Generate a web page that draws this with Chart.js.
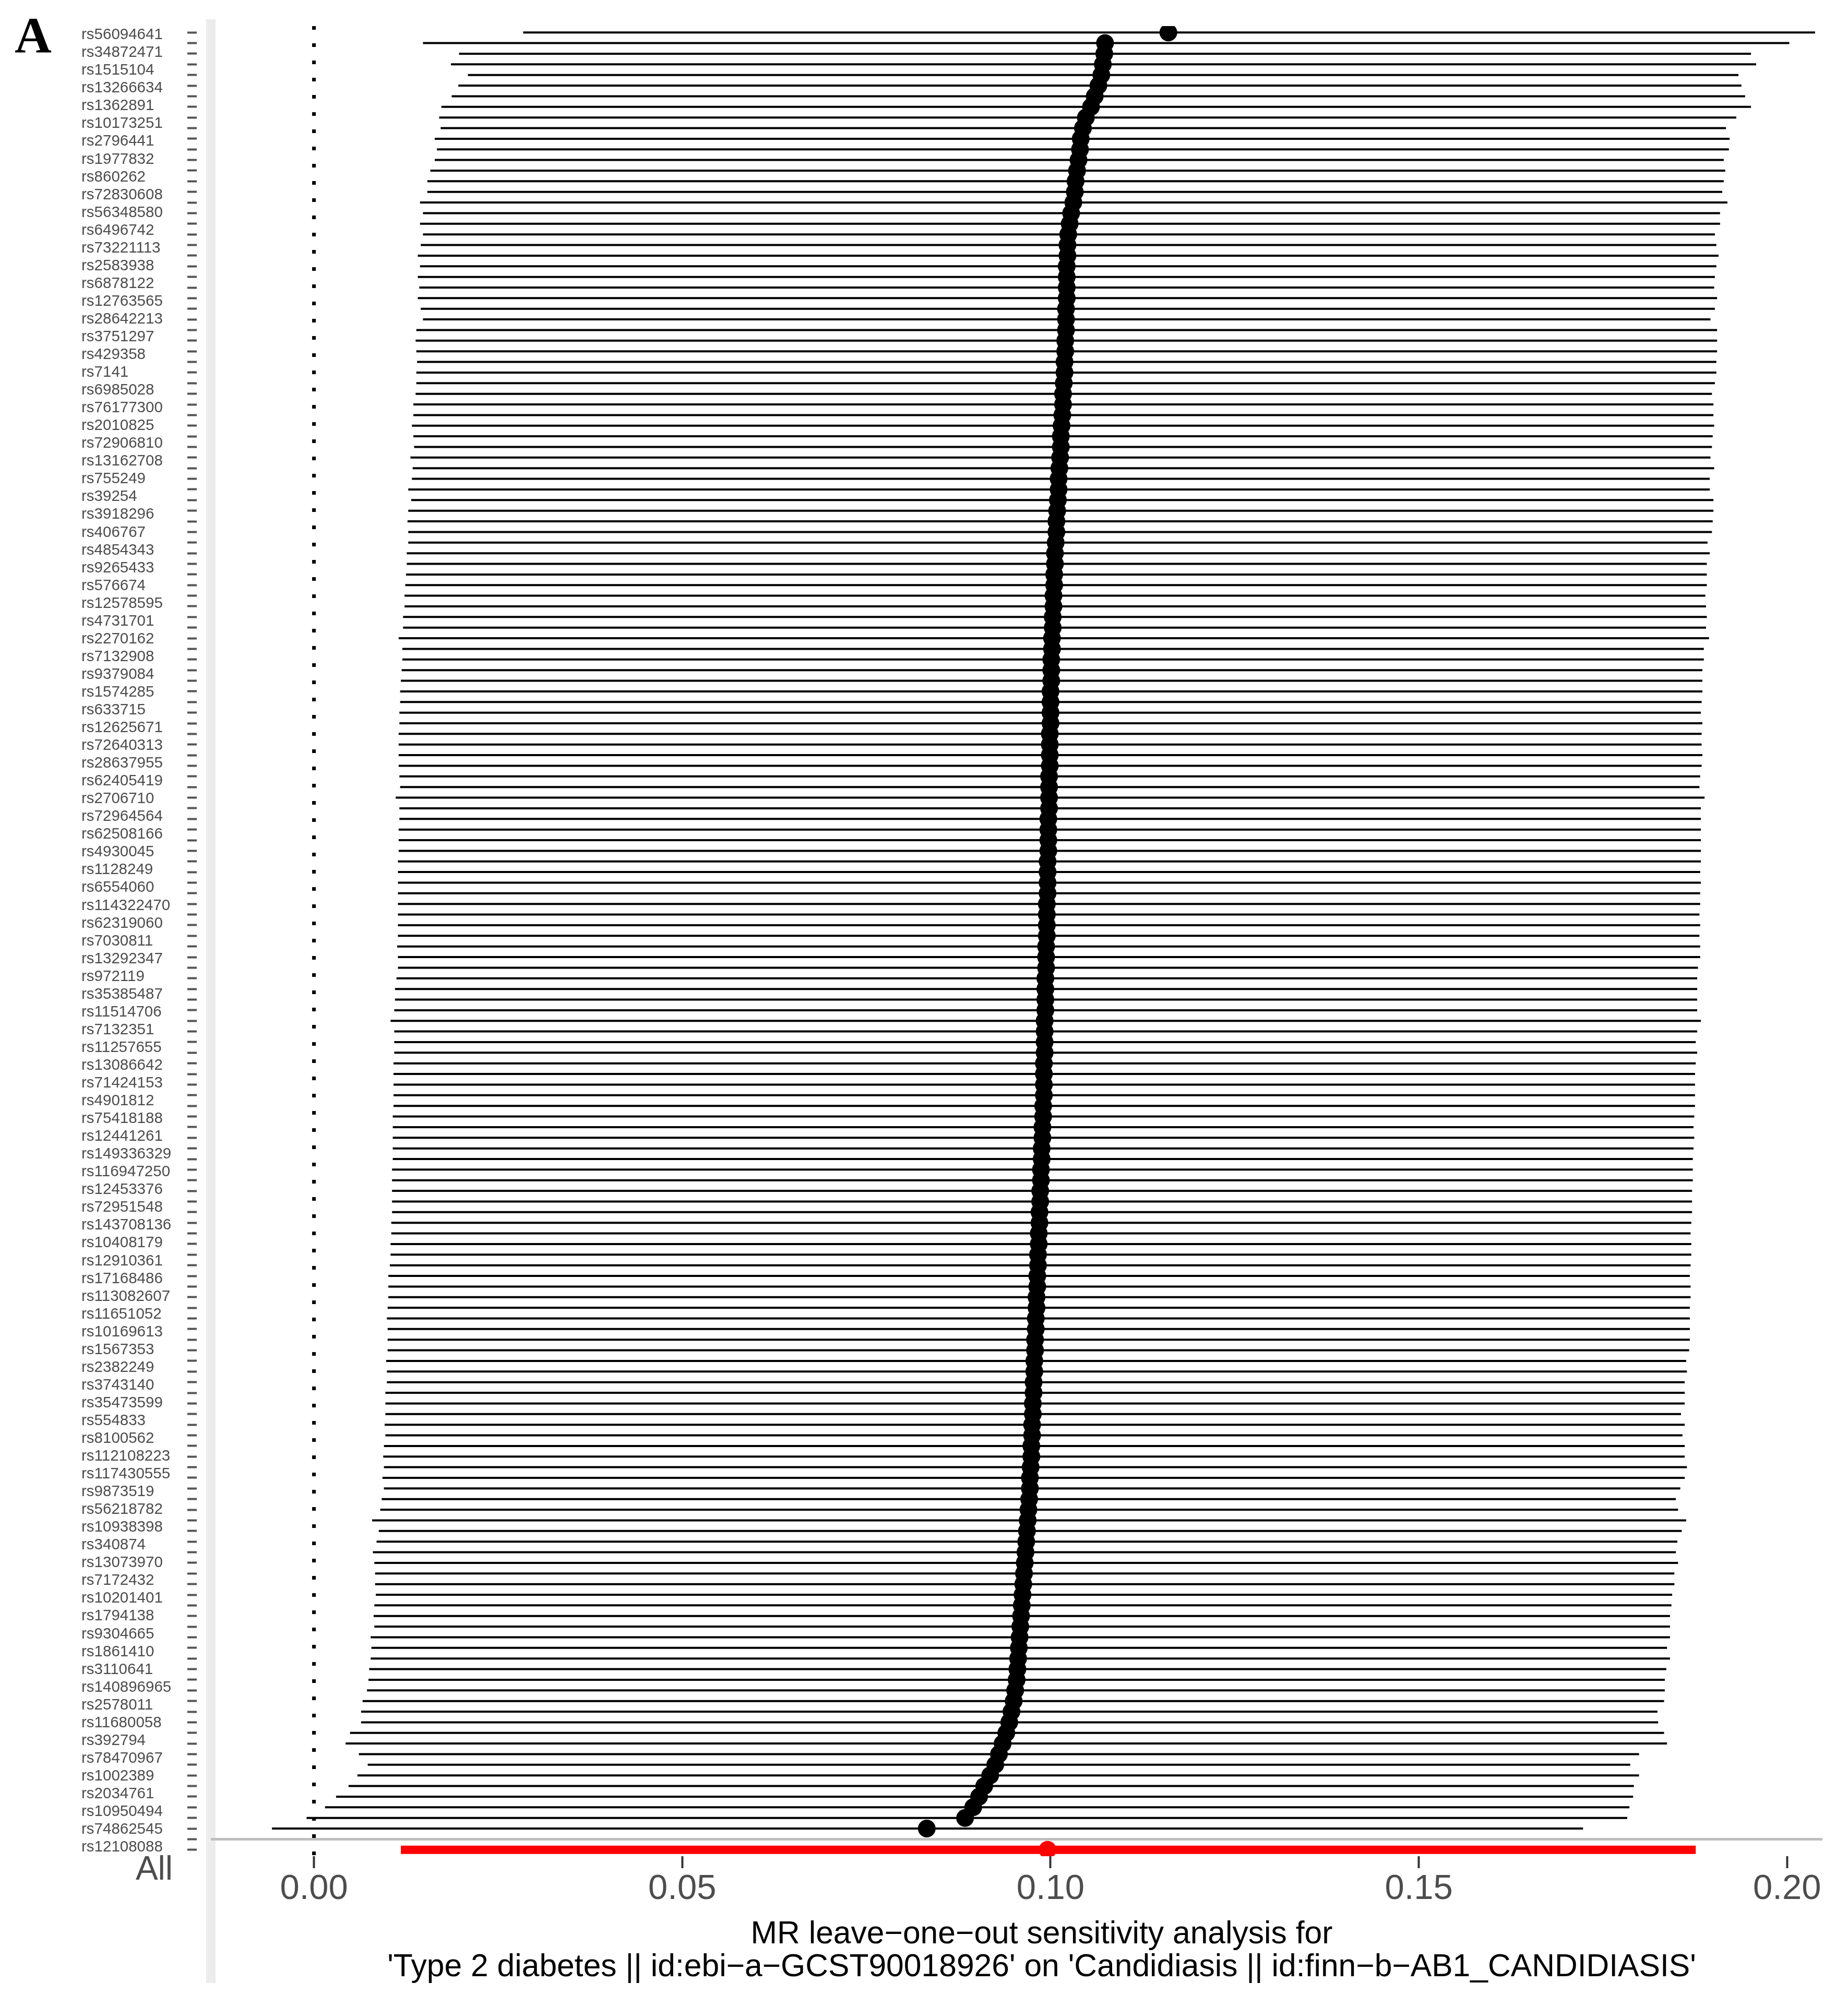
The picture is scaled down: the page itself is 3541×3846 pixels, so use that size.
<!DOCTYPE html>
<html>
<head>
<meta charset="utf-8">
<script src="https://cdn.jsdelivr.net/npm/chart.js@4.4.0/dist/chart.umd.min.js"></script>
<style>
  html, body { margin: 0; padding: 0; background: #ffffff; }
  canvas { display: block; }
</style>
</head>
<body>
<canvas id="looChart" width="3541" height="3846"></canvas>
<script>
/*
MR leave-one-out sensitivity analysis
Each SNP row: estimate with its 95% interval when that SNP is left out.
Last row "All" is the estimate with all SNPs (red), below a blank separator row.
*/

// Tick labels shown on the left (as printed in the figure)
const snpLabels = [
    'rs56094641', 'rs34872471', 'rs1515104', 'rs13266634', 'rs1362891', 'rs10173251', 'rs2796441',
    'rs1977832', 'rs860262', 'rs72830608', 'rs56348580', 'rs6496742', 'rs73221113', 'rs2583938',
    'rs6878122', 'rs12763565', 'rs28642213', 'rs3751297', 'rs429358', 'rs7141', 'rs6985028',
    'rs76177300', 'rs2010825', 'rs72906810', 'rs13162708', 'rs755249', 'rs39254', 'rs3918296',
    'rs406767', 'rs4854343', 'rs9265433', 'rs576674', 'rs12578595', 'rs4731701', 'rs2270162',
    'rs7132908', 'rs9379084', 'rs1574285', 'rs633715', 'rs12625671', 'rs72640313', 'rs28637955',
    'rs62405419', 'rs2706710', 'rs72964564', 'rs62508166', 'rs4930045', 'rs1128249', 'rs6554060',
    'rs114322470', 'rs62319060', 'rs7030811', 'rs13292347', 'rs972119', 'rs35385487', 'rs11514706',
    'rs7132351', 'rs11257655', 'rs13086642', 'rs71424153', 'rs4901812', 'rs75418188', 'rs12441261',
    'rs149336329', 'rs116947250', 'rs12453376', 'rs72951548', 'rs143708136', 'rs10408179',
    'rs12910361', 'rs17168486', 'rs113082607', 'rs11651052', 'rs10169613', 'rs1567353', 'rs2382249',
    'rs3743140', 'rs35473599', 'rs554833', 'rs8100562', 'rs112108223', 'rs117430555', 'rs9873519',
    'rs56218782', 'rs10938398', 'rs340874', 'rs13073970', 'rs7172432', 'rs10201401', 'rs1794138',
    'rs9304665', 'rs1861410', 'rs3110641', 'rs140896965', 'rs2578011', 'rs11680058', 'rs392794',
    'rs78470967', 'rs1002389', 'rs2034761', 'rs10950494', 'rs74862545', 'rs12108088'
];

// Leave-one-out estimates, one per row from top to bottom
const estimate = [
    0.1160, 0.1074, 0.1073, 0.1071, 0.1069, 0.1065, 0.1060, 0.1055, 0.1048, 0.1044,
    0.1041, 0.1040, 0.1038, 0.1036, 0.1034, 0.1033, 0.1031, 0.1028, 0.1026, 0.1024,
    0.1023, 0.1023, 0.1022, 0.1022, 0.1022, 0.1022, 0.1021, 0.1021, 0.1021, 0.1020,
    0.1020, 0.1019, 0.1019, 0.1018, 0.1017, 0.1017, 0.1016, 0.1015, 0.1014, 0.1014,
    0.1013, 0.1012, 0.1011, 0.1011, 0.1010, 0.1009, 0.1008, 0.1008, 0.1007, 0.1006,
    0.1006, 0.1005, 0.1005, 0.1004, 0.1004, 0.1003, 0.1003, 0.1002, 0.1002, 0.1001,
    0.1001, 0.1001, 0.1000, 0.1000, 0.1000, 0.1000, 0.0999, 0.0999, 0.0999, 0.0999,
    0.0998, 0.0998, 0.0998, 0.0998, 0.0997, 0.0997, 0.0997, 0.0997, 0.0996, 0.0996,
    0.0996, 0.0996, 0.0995, 0.0995, 0.0995, 0.0995, 0.0994, 0.0994, 0.0994, 0.0993,
    0.0993, 0.0993, 0.0993, 0.0992, 0.0992, 0.0992, 0.0992, 0.0991, 0.0991, 0.0991,
    0.0991, 0.0990, 0.0990, 0.0989, 0.0989, 0.0988, 0.0988, 0.0987, 0.0987, 0.0986,
    0.0986, 0.0985, 0.0985, 0.0984, 0.0984, 0.0983, 0.0983, 0.0982, 0.0982, 0.0981,
    0.0981, 0.0980, 0.0980, 0.0979, 0.0979, 0.0978, 0.0978, 0.0977, 0.0977, 0.0976,
    0.0976, 0.0975, 0.0975, 0.0974, 0.0974, 0.0973, 0.0972, 0.0972, 0.0971, 0.0970,
    0.0969, 0.0968, 0.0967, 0.0966, 0.0965, 0.0964, 0.0963, 0.0962, 0.0961, 0.0960,
    0.0959, 0.0958, 0.0957, 0.0956, 0.0955, 0.0954, 0.0952, 0.0950, 0.0947, 0.0944,
    0.0940, 0.0935, 0.0930, 0.0925, 0.0918, 0.0910, 0.0903, 0.0895, 0.0884, 0.0832
];

// Lower end of each interval
const lowerCI = [
    0.0284, 0.0148, 0.0197, 0.0186, 0.0209, 0.0196, 0.0187, 0.0173, 0.0170, 0.0172,
    0.0164, 0.0167, 0.0164, 0.0158, 0.0154, 0.0154, 0.0144, 0.0148, 0.0144, 0.0148,
    0.0145, 0.0141, 0.0144, 0.0141, 0.0143, 0.0141, 0.0145, 0.0148, 0.0139, 0.0138,
    0.0139, 0.0140, 0.0139, 0.0139, 0.0138, 0.0135, 0.0135, 0.0133, 0.0135, 0.0136,
    0.0131, 0.0134, 0.0133, 0.0128, 0.0132, 0.0128, 0.0127, 0.0128, 0.0128, 0.0126,
    0.0126, 0.0125, 0.0124, 0.0123, 0.0123, 0.0121, 0.0121, 0.0115, 0.0120, 0.0120,
    0.0119, 0.0118, 0.0117, 0.0117, 0.0116, 0.0116, 0.0115, 0.0115, 0.0115, 0.0115,
    0.0116, 0.0117, 0.0111, 0.0116, 0.0116, 0.0115, 0.0115, 0.0115, 0.0114, 0.0114,
    0.0114, 0.0114, 0.0114, 0.0114, 0.0114, 0.0114, 0.0113, 0.0114, 0.0114, 0.0112,
    0.0110, 0.0110, 0.0109, 0.0104, 0.0109, 0.0109, 0.0109, 0.0108, 0.0108, 0.0108,
    0.0108, 0.0108, 0.0107, 0.0107, 0.0107, 0.0107, 0.0107, 0.0106, 0.0106, 0.0106,
    0.0106, 0.0106, 0.0105, 0.0105, 0.0104, 0.0104, 0.0103, 0.0101, 0.0101, 0.0101,
    0.0100, 0.0099, 0.0100, 0.0100, 0.0100, 0.0098, 0.0099, 0.0099, 0.0097, 0.0097,
    0.0097, 0.0096, 0.0097, 0.0095, 0.0094, 0.0095, 0.0093, 0.0095, 0.0092, 0.0090,
    0.0079, 0.0088, 0.0085, 0.0080, 0.0082, 0.0083, 0.0083, 0.0084, 0.0082, 0.0081,
    0.0082, 0.0077, 0.0078, 0.0077, 0.0075, 0.0074, 0.0072, 0.0066, 0.0064, 0.0064,
    0.0049, 0.0043, 0.0061, 0.0073, 0.0059, 0.0047, 0.0030, 0.0015, -0.0010, -0.0057
];

// Upper end of each interval
const upperCI = [
    0.2038, 0.2003, 0.1951, 0.1958, 0.1934, 0.1938, 0.1943, 0.1951, 0.1931, 0.1917,
    0.1922, 0.1921, 0.1914, 0.1916, 0.1914, 0.1912, 0.1919, 0.1909, 0.1909, 0.1902,
    0.1904, 0.1907, 0.1904, 0.1902, 0.1901, 0.1905, 0.1902, 0.1896, 0.1905, 0.1905,
    0.1905, 0.1904, 0.1904, 0.1902, 0.1898, 0.1900, 0.1900, 0.1901, 0.1899, 0.1898,
    0.1896, 0.1901, 0.1895, 0.1895, 0.1900, 0.1900, 0.1899, 0.1898, 0.1892, 0.1895,
    0.1891, 0.1891, 0.1891, 0.1889, 0.1890, 0.1891, 0.1890, 0.1894, 0.1887, 0.1887,
    0.1885, 0.1885, 0.1885, 0.1884, 0.1883, 0.1885, 0.1884, 0.1884, 0.1885, 0.1884,
    0.1882, 0.1881, 0.1888, 0.1883, 0.1883, 0.1883, 0.1883, 0.1883, 0.1883, 0.1882,
    0.1883, 0.1882, 0.1882, 0.1881, 0.1882, 0.1881, 0.1882, 0.1882, 0.1879, 0.1878,
    0.1878, 0.1878, 0.1878, 0.1883, 0.1878, 0.1876, 0.1878, 0.1876, 0.1875, 0.1875,
    0.1875, 0.1875, 0.1874, 0.1873, 0.1874, 0.1873, 0.1872, 0.1872, 0.1872, 0.1871,
    0.1871, 0.1871, 0.1870, 0.1869, 0.1870, 0.1870, 0.1869, 0.1868, 0.1869, 0.1869,
    0.1868, 0.1868, 0.1868, 0.1868, 0.1867, 0.1863, 0.1864, 0.1861, 0.1861, 0.1861,
    0.1856, 0.1861, 0.1858, 0.1861, 0.1861, 0.1864, 0.1861, 0.1855, 0.1849, 0.1852,
    0.1863, 0.1857, 0.1851, 0.1849, 0.1852, 0.1847, 0.1847, 0.1844, 0.1843, 0.1841,
    0.1841, 0.1841, 0.1837, 0.1841, 0.1836, 0.1834, 0.1834, 0.1833, 0.1824, 0.1825,
    0.1833, 0.1837, 0.1799, 0.1787, 0.1799, 0.1792, 0.1791, 0.1786, 0.1783, 0.1723
];

// Overall estimate with all SNPs
const allEstimate = 0.0996;
const allLower = 0.0118;
const allUpper = 0.1876;
const allLabel = 'All';

const xTickValues = [0, 0.05, 0.10, 0.15, 0.20];
const xMin = -0.0140;
const xMax = 0.2048;
const xTitle = [
    'MR leave\u2212one\u2212out sensitivity analysis for',
    "'Type 2 diabetes || id:ebi\u2212a\u2212GCST90018926' on 'Candidiasis || id:finn\u2212b\u2212AB1_CANDIDIASIS'"
];
const panelLetter = 'A';

// Row layout: SNP rows 0..169, an empty row, then All
const blankRow = estimate.length;
const allRow = estimate.length + 1;

const fontFamily = '"Liberation Sans", Arial, sans-serif';


function buildIntervalPoints(lo, hi) {

    // Each interval is two points on its row, followed by a gap point

    const points = [];
    for (let i = 0; i < lo.length; i++) {
        points.push({x: lo[i], y: i});
        points.push({x: hi[i], y: i});
        points.push({x: NaN, y: NaN});
    }
    return points;
}


function buildEstimatePoints(values) {
    return values.map((v, i) => ({x: v, y: i}));
}


// Light grey strip left of the panel, panel letter, "All" label and the axis title
const panelLabels = {
    id: 'panelLabels',
    beforeDraw(chart) {
        const ctx = chart.ctx;
        const area = chart.chartArea;
        ctx.save();
        ctx.fillStyle = '#ececec';
        ctx.fillRect(area.left - 9, 37, 18, 3763);
        ctx.restore();
    },
    afterDraw(chart) {
        const ctx = chart.ctx;
        const yScale = chart.scales.y;
        const labelScale = chart.scales.yLab;
        const xScale = chart.scales.x;

        ctx.save();
        ctx.fillStyle = '#000000';
        ctx.font = 'bold 98px "Liberation Serif", "Times New Roman", serif';
        ctx.textAlign = 'left';
        ctx.textBaseline = 'alphabetic';
        ctx.fillText(panelLetter, 28, 100);

        ctx.fillStyle = '#4d4d4d';
        ctx.font = '64px ' + fontFamily;
        ctx.textAlign = 'right';
        ctx.textBaseline = 'middle';
        ctx.fillText(allLabel, labelScale.right - 28, yScale.getPixelForValue(allRow) + 40);

        // axis title, centred a little right of the panel centre as in the figure
        ctx.fillStyle = '#000000';
        ctx.font = '60.6px ' + fontFamily;
        ctx.textAlign = 'center';
        ctx.textBaseline = 'middle';
        const titleX = (xScale.left + xScale.right) / 2 + 48;
        ctx.fillText(xTitle[0], titleX, xScale.bottom - 139);
        ctx.fillText(xTitle[1], titleX, xScale.bottom - 76);
        ctx.restore();
    }
};


const ctx = document.getElementById('looChart').getContext('2d');

window.looChart = new Chart(ctx, {
    type: 'scatter',
    data: {
        datasets: [
            {
                // dotted line at zero
                data: [{x: 0, y: -0.6}, {x: 0, y: allRow + 0.6}],
                showLine: true,
                borderColor: '#000000',
                borderWidth: 7,
                borderDash: [7, 26],
                borderCapStyle: 'butt',
                pointRadius: 0,
                order: 10
            },
            {
                // grey line on the empty row above All
                data: [{x: xMin, y: blankRow}, {x: xMax, y: blankRow}],
                showLine: true,
                borderColor: '#bebebe',
                borderWidth: 5,
                pointRadius: 0,
                order: 9
            },
            {
                data: buildIntervalPoints(lowerCI, upperCI),
                showLine: true,
                spanGaps: false,
                borderColor: '#000000',
                borderWidth: 4,
                borderCapStyle: 'butt',
                pointRadius: 0,
                order: 5
            },
            {
                data: [{x: allLower, y: allRow}, {x: allUpper, y: allRow}],
                showLine: true,
                borderColor: '#ff0000',
                borderWidth: 16,
                borderCapStyle: 'butt',
                pointRadius: 0,
                order: 4
            },
            {
                data: buildEstimatePoints(estimate),
                showLine: false,
                pointRadius: 17,
                pointBorderWidth: 0,
                pointBackgroundColor: '#000000',
                order: 2
            },
            {
                data: [{x: allEstimate, y: allRow}],
                showLine: false,
                pointRadius: 17,
                pointBorderWidth: 0,
                pointBackgroundColor: '#ff0000',
                order: 1
            }
        ]
    },
    options: {
        responsive: false,
        animation: false,
        devicePixelRatio: 1,
        events: [],
        layout: {
            padding: {left: 156, right: 49, top: 50, bottom: 0}
        },
        plugins: {
            legend: {display: false},
            tooltip: {enabled: false}
        },
        scales: {
            x: {
                type: 'linear',
                min: xMin,
                max: xMax,
                afterBuildTicks: (scale) => {
                    scale.ticks = xTickValues.map(v => ({value: v}));
                },
                ticks: {
                    callback: (value) => value.toFixed(2),
                    color: '#4d4d4d',
                    font: {family: fontFamily, size: 67},
                    padding: 0,
                    maxRotation: 0
                },
                grid: {
                    drawOnChartArea: false,
                    drawTicks: true,
                    tickLength: 23,
                    tickWidth: 4,
                    tickColor: '#333333'
                },
                border: {display: false},
                title: {display: false},
                afterFit: (scale) => { scale.height = 289; }
            },
            y: {
                type: 'linear',
                position: 'left',
                weight: 0,
                min: -0.6,
                max: allRow + 0.6,
                reverse: true,
                afterBuildTicks: (scale) => {
                    const rows = [];
                    for (let i = 0; i <= allRow; i++) rows.push({value: i});
                    scale.ticks = rows;
                },
                ticks: {display: false},
                grid: {
                    drawOnChartArea: false,
                    drawTicks: true,
                    tickLength: 45,
                    tickWidth: 4,
                    tickColor: '#555555',
                    tickBorderDash: [18, 200]
                },
                border: {display: false},
                afterFit: (scale) => { scale.width = 45; }
            },
            yLab: {
                type: 'category',
                labels: snpLabels,
                position: 'left',
                weight: 1,
                offset: true,
                ticks: {
                    crossAlign: 'far',
                    autoSkip: false,
                    color: '#4d4d4d',
                    font: {family: fontFamily, size: 29.5},
                    padding: 0
                },
                grid: {display: false, drawTicks: false},
                border: {display: false},
                afterFit: (scale) => { scale.width = 203; }
            }
        }
    },
    plugins: [panelLabels]
});
</script>
</body>
</html>
